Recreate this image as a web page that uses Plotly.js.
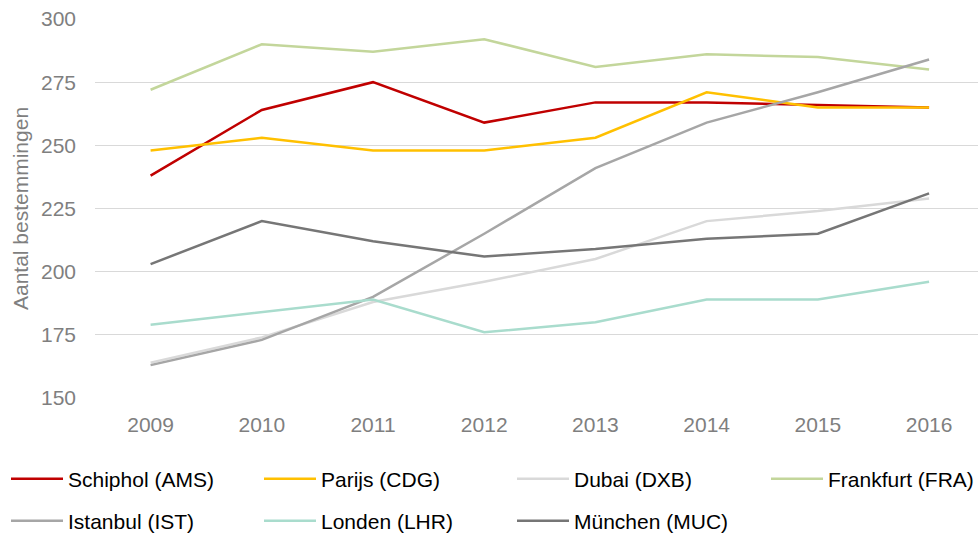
<!DOCTYPE html>
<html>
<head>
<meta charset="utf-8">
<script src="https://cdn.plot.ly/plotly-3.0.1.min.js"></script>
<style>html,body{margin:0;padding:0;background:#fff;}#chart{width:978px;height:536px;}</style>
</head>
<body>
<div id="chart"></div>
<script>
const years = ['2009','2010','2011','2012','2013','2014','2015','2016'];
const seriesNames = ['Schiphol (AMS)','Parijs (CDG)','Dubai (DXB)','Frankfurt (FRA)','Istanbul (IST)','Londen (LHR)','München (MUC)'];
const schiphol  = [238,264,275,259,267,267,266,265];
const parijs    = [248,253,248,248,253,271,265,265];
const dubai     = [164,174,188,196,205,220,224,229];
const frankfurt = [272,290,287,292,281,286,285,280];
const istanbul  = [163,173,190,215,241,259,271,284];
const londen    = [179,184,189,176,180,189,189,196];
const munchen   = [203,220,212,206,209,213,215,231];
const yTicks = [150,175,200,225,250,275,300];
const yTitle = 'Aantal bestemmingen';

const values = [schiphol, parijs, dubai, frankfurt, istanbul, londen, munchen];
const colors = ['#C00000','#FFC000','#D9D9D9','#C3D69B','#A6A6A6','#A9DCCD','#767676'];
const legendIds = ['legend','legend','legend','legend3','legend2','legend2','legend2'];

const FONT = 'Liberation Sans, Arial, sans-serif';
const traces = values.map((v,i) => ({
  type: 'scatter', mode: 'lines', x: years, y: v, name: seriesNames[i],
  line: {color: colors[i], width: 2.5}, legend: legendIds[i], hoverinfo: 'x+y+name'
}));

const legendBase = {
  orientation: 'h', xref: 'container', yref: 'container', xanchor: 'left', yanchor: 'middle',
  itemwidth: 52, entrywidth: 186, entrywidthmode: 'pixels',
  font: {family: FONT, size: 21, color: '#000000'}, bgcolor: 'rgba(0,0,0,0)', borderwidth: 0,
  traceorder: 'normal'
};

const layout = {
  width: 978, height: 536,
  margin: {l: 95, r: 0, t: 19, b: 138, pad: 0},
  paper_bgcolor: '#ffffff', plot_bgcolor: '#ffffff',
  font: {family: FONT, size: 21, color: '#7F7F7F'},
  showlegend: true,
  xaxis: {
    type: 'category', range: [-0.5, 7.44], showgrid: false, zeroline: false, showline: false,
    ticks: '', tickfont: {family: FONT, size: 21, color: '#7F7F7F'}, ticklabelstandoff: 12, fixedrange: true
  },
  yaxis: {
    range: [150, 300], tickvals: yTicks, ticktext: yTicks.map(String),
    showgrid: true, gridcolor: '#D9D9D9', gridwidth: 1.3, zeroline: false, showline: false,
    ticks: '', tickfont: {family: FONT, size: 21, color: '#7F7F7F'}, ticklabelstandoff: 18,
    title: {text: yTitle, font: {family: FONT, size: 21, color: '#7F7F7F'}, standoff: 6},
    fixedrange: true
  },
  legend: Object.assign({}, legendBase, {x: 6/978, y: 1 - 479/536}),
  legend3: Object.assign({}, legendBase, {x: 766/978, y: 1 - 479/536, entrywidth: 0}),
  legend2: Object.assign({}, legendBase, {x: 6/978, y: 1 - 521/536})
};

Plotly.newPlot('chart', traces, layout, {displayModeBar: false, staticPlot: true});
</script>
</body>
</html>
